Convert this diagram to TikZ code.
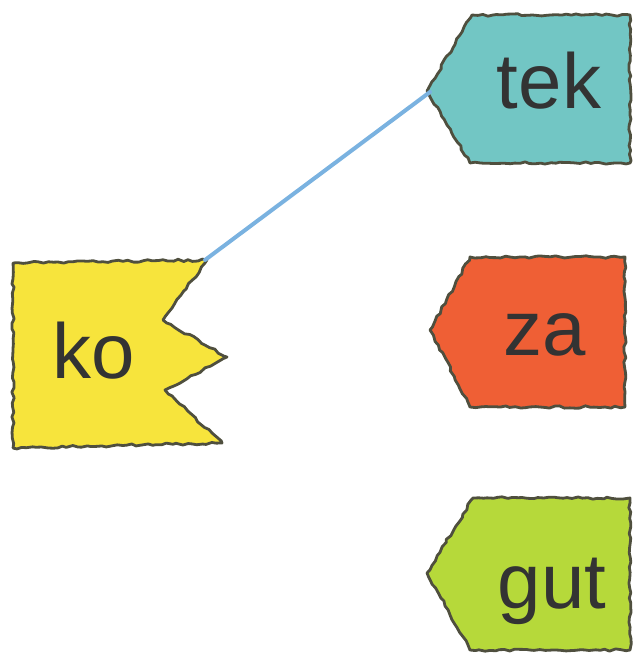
\documentclass[tikz,border=0pt]{standalone}
\usepackage{fontspec}
\setmainfont{Liberation Sans}
\usetikzlibrary{decorations.pathmorphing}
\definecolor{koyellow}{HTML}{F7E43C}
\definecolor{tekteal}{HTML}{72C6C4}
\definecolor{zared}{HTML}{EF5F35}
\definecolor{gutlime}{HTML}{B6D93A}
\definecolor{edge}{HTML}{4F4F3E}
\definecolor{lineblue}{HTML}{7AB2E0}
\begin{document}
\begin{tikzpicture}[x=1pt,y=-1pt,
  card/.style={draw=edge, line width=2.8pt, line join=round,
    decorate, decoration={random steps, segment length=5pt, amplitude=1.2pt}},
  word/.style={anchor=base, text=black!80, font=\fontsize{78}{80}\selectfont, inner sep=0pt}]
\pgfmathsetseed{7}
\useasboundingbox (0,0) rectangle (632,653);
% ko
\path[card, fill=koyellow] (13,263) -- (207,260) -- (163,320) -- (227,357) -- (165,390) -- (222,443) -- (13,448) -- cycle;
\node[word] (ko) at (94,378) {ko};
% tek
\path[card, fill=tekteal] (472,15) -- (630,15) -- (630,163) -- (470,163) -- (427,91) -- cycle;
\node[word] (tek) at (549,108) {tek};
% za
\path[card, fill=zared] (470,257) -- (625,257) -- (625,407) -- (470,407) -- (430,330) -- cycle;
\node[word] (za) at (545,355) {za};
% gut
\path[card, fill=gutlime] (473,498) -- (630,498) -- (630,650) -- (470,650) -- (427,573) -- cycle;
\node[word] (gut) at (552,608) {gut};
% connector
\coordinate (tektip) at (430,92);
\coordinate (kocorner) at (205,260);
\draw[lineblue, line width=4pt, line cap=round] (tektip) -- (kocorner);
\end{tikzpicture}
\end{document}
